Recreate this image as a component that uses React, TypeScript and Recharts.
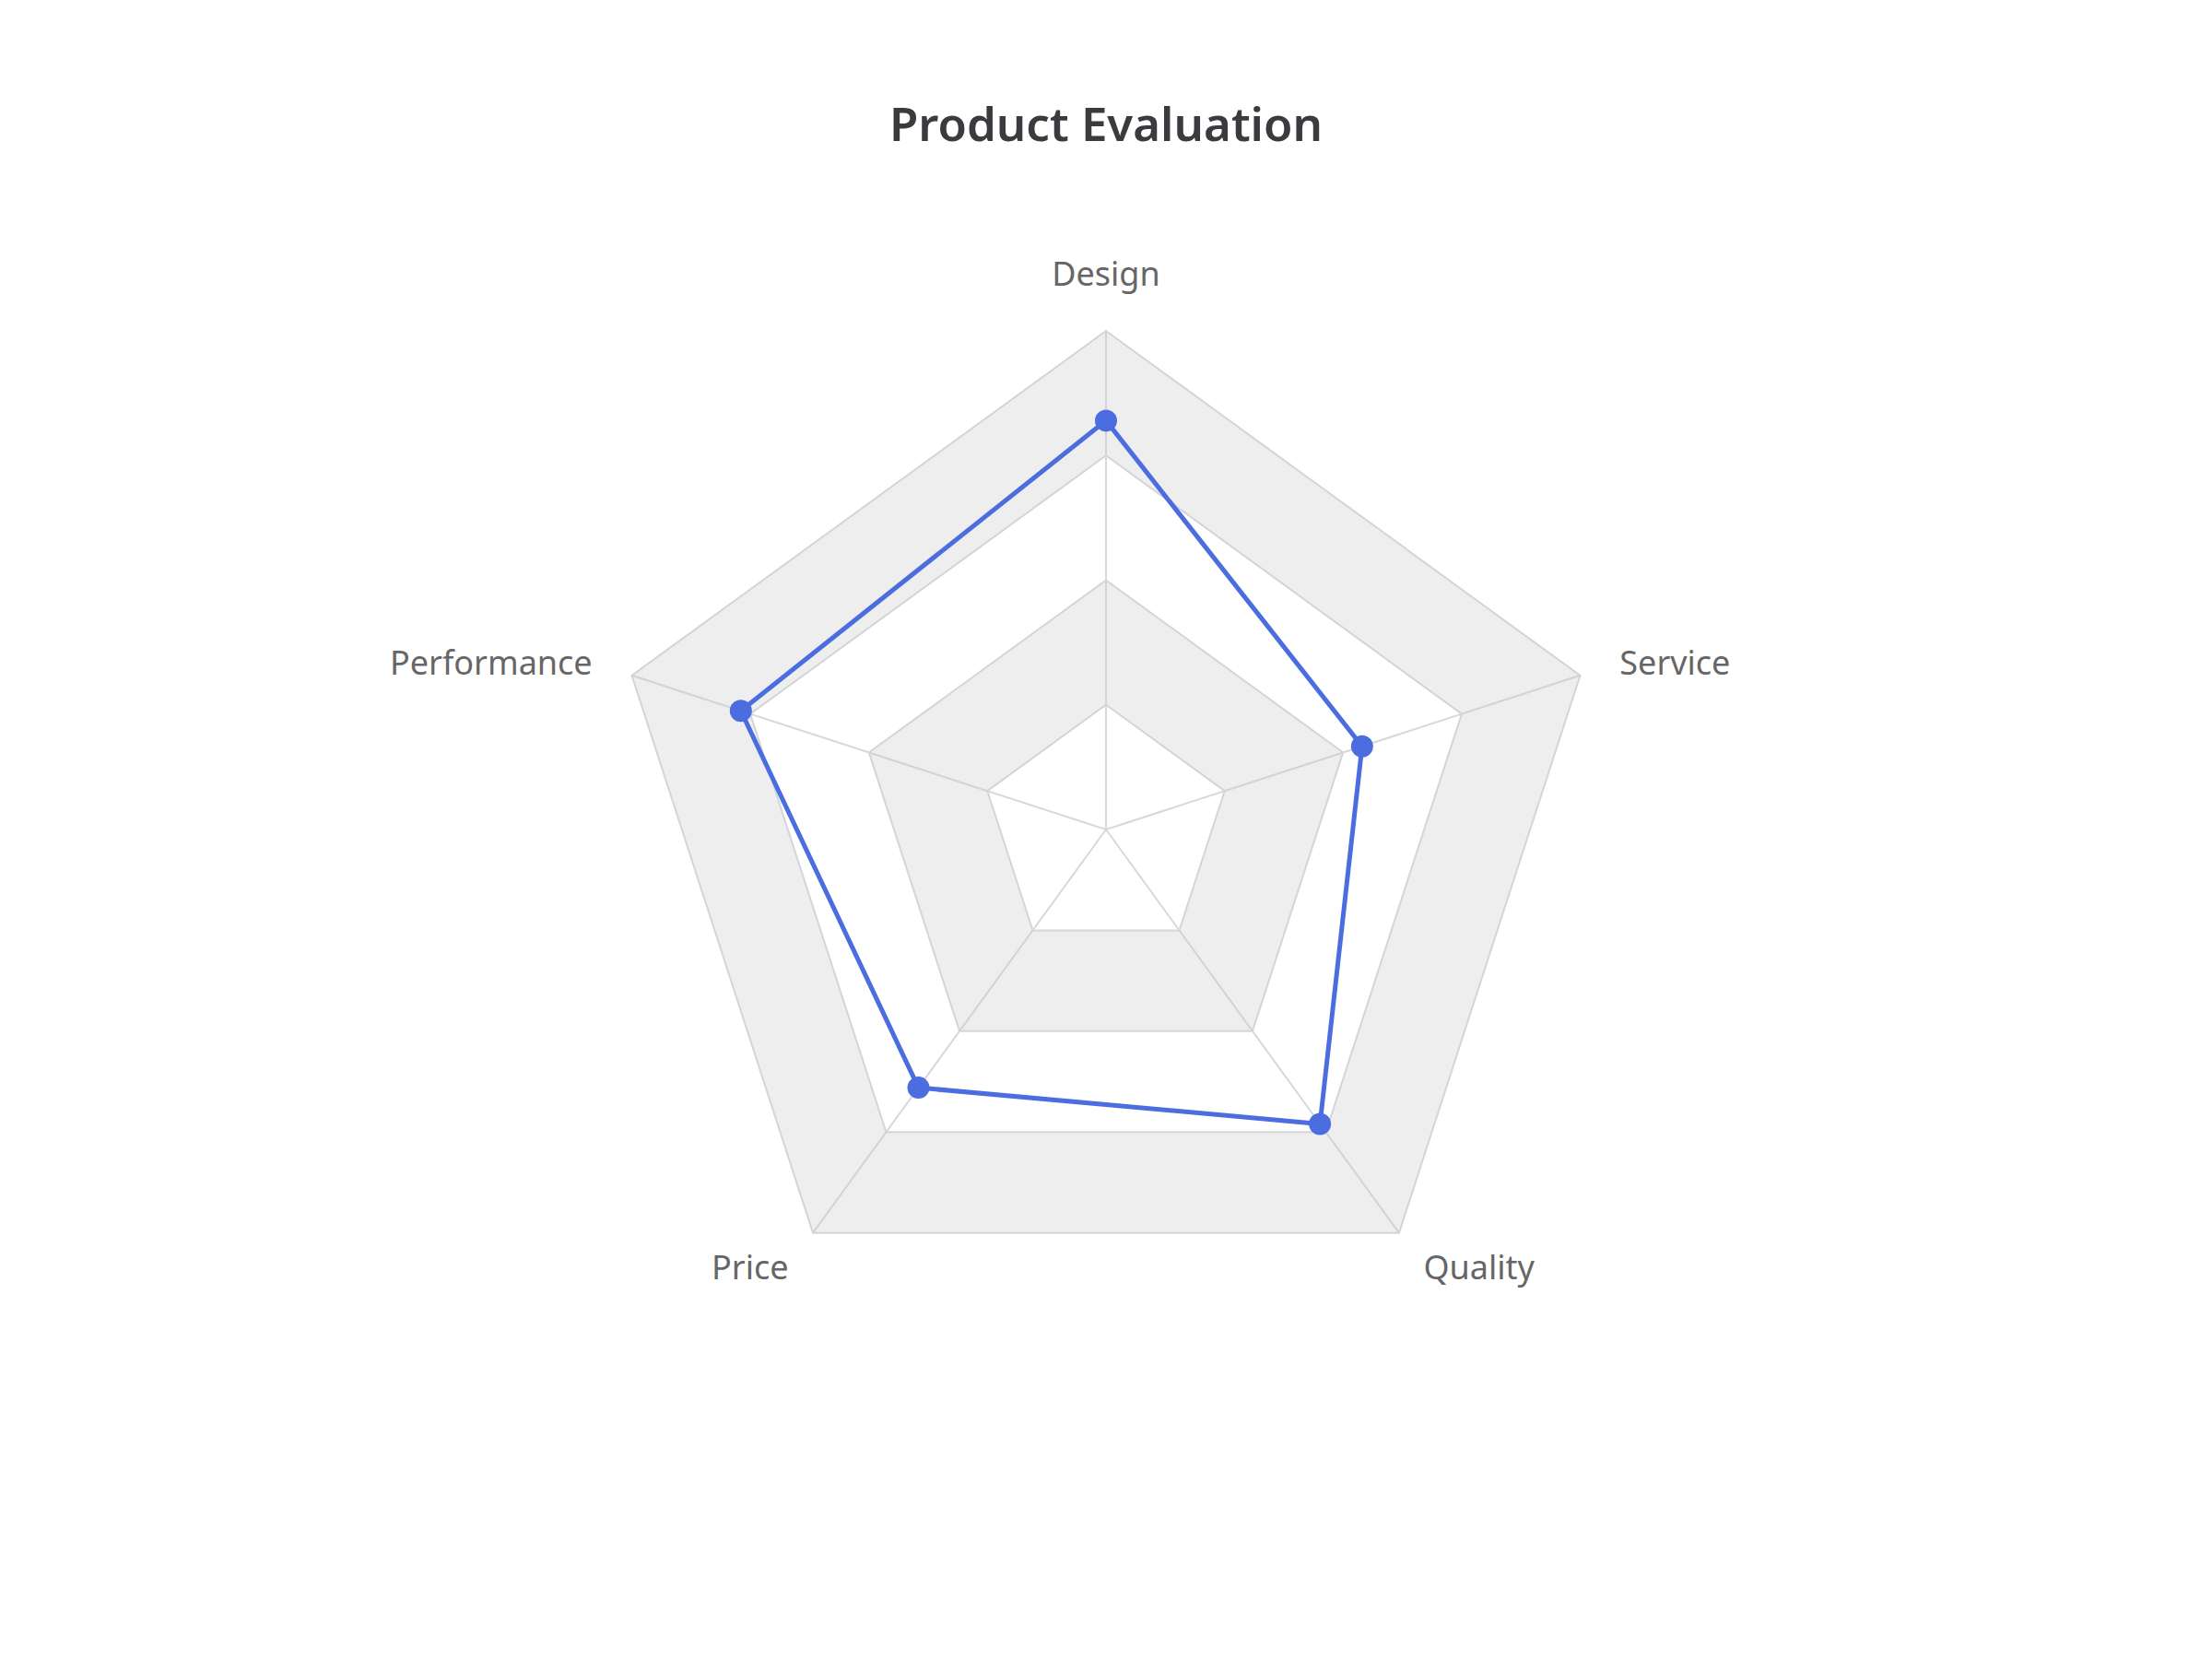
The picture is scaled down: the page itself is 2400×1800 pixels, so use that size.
import React from 'react';
import { RadarChart, Radar, PolarGrid, PolarAngleAxis, PolarRadiusAxis } from 'recharts';

const criteria = ['Design', 'Service', 'Quality', 'Price', 'Performance'];
const scores = [82, 54, 73, 64, 77];
// alternating shaded rings of the grid (inner..outer bounds)
const bandLow = [25, 75];
const bandHigh = [50, 100];

const CX = 1200;
const CY = 900;
const R = 541;
const LINE = '#4b6ddf';

const data = criteria.map((name, i) => ({
  name,
  score: scores[i],
  band0: [bandLow[0], bandHigh[0]],
  band1: [bandLow[1], bandHigh[1]],
}));

const AngleTick = (props: any) => {
  const { x, y, payload } = props;
  const dx = x - CX;
  const dy = y - CY;
  const len = Math.sqrt(dx * dx + dy * dy) || 1;
  const ux = dx / len;
  const uy = dy / len;
  const px = CX + ux * (R + 45);
  const py = CY + uy * (R + 45);
  const anchor = Math.abs(ux) < 0.01 ? 'middle' : ux > 0 ? 'start' : 'end';
  const isTop = Math.abs(ux) < 0.01 && uy < 0;
  return (
    <text
      x={px}
      y={isTop ? py - 4 : py}
      textAnchor={anchor}
      dominantBaseline={isTop ? 'auto' : 'central'}
      fill="#666"
      fontSize={36}
      fontFamily="'Noto Sans', sans-serif"
    >
      {payload.value}
    </text>
  );
};

export default function App() {
  return (
    <div style={{ position: 'absolute', left: 0, top: 0, width: 2400, height: 1800, background: '#fff' }}>
      <div
        style={{
          position: 'absolute',
          top: 108,
          left: 0,
          width: 2400,
          textAlign: 'center',
          fontFamily: "'Noto Sans', sans-serif",
          fontWeight: 600,
          fontSize: 51,
          lineHeight: '51px',
          color: '#3a3a3f',
        }}
      >
        Product Evaluation
      </div>
      <RadarChart width={2400} height={1800} data={data} cx={CX} cy={CY} outerRadius={R}>
        <PolarGrid gridType="polygon" stroke="#d6d8de" strokeWidth={2} />
        <PolarAngleAxis dataKey="name" tick={AngleTick} tickLine={false} axisLine={false} />
        <PolarRadiusAxis domain={[0, 100]} tickCount={5} tick={false} axisLine={false} />
        <Radar dataKey="band0" stroke="none" fill="#c8c8c8" fillOpacity={0.3} dot={false} activeDot={false} isAnimationActive={false} />
        <Radar dataKey="band1" stroke="none" fill="#c8c8c8" fillOpacity={0.3} dot={false} activeDot={false} isAnimationActive={false} />
        <Radar
          dataKey="score"
          stroke={LINE}
          strokeWidth={5}
          fill="none"
          fillOpacity={0}
          dot={{ r: 12, fill: LINE, stroke: LINE, strokeWidth: 0, fillOpacity: 1 }}
          activeDot={false}
          isAnimationActive={false}
        />
      </RadarChart>
    </div>
  );
}
